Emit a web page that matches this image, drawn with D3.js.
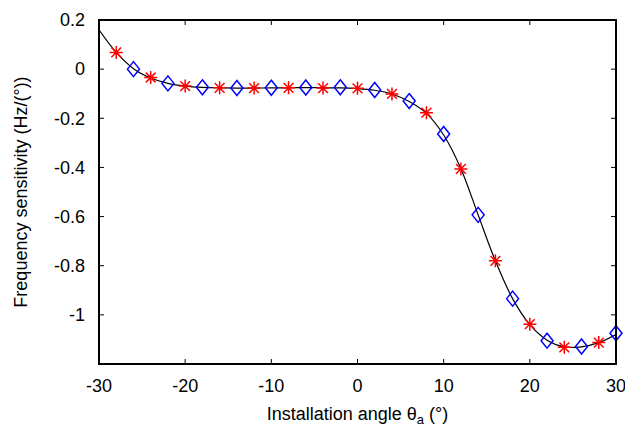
<!DOCTYPE html>
<html lang="en">
<head>
    <meta charset="UTF-8">
    <title>Frequency sensitivity</title>
    <script src="https://d3js.org/d3.v7.min.js"></script>
    <style>
        body { margin: 0; background: white; }
        text { font-family: "Liberation Sans", Arial, sans-serif; fill: black; }
        .tick-label { font-size: 18px; }
        .axis-title { font-size: 18px; }
    </style>
</head>
<body>
    <div id="chart"></div>
    <script>
        // star markers (red)
        const starAngles = [-28, -24, -20, -16, -12, -8, -4, 0, 4, 8, 12, 16, 20, 24, 28];
        const starValues = [0.068, -0.034, -0.069, -0.076, -0.077, -0.076, -0.077, -0.078, -0.101, -0.177, -0.406, -0.78, -1.038, -1.132, -1.113];

        // diamond markers (blue)
        const diamondAngles = [-26, -22, -18, -14, -10, -6, -2, 2, 6, 10, 14, 18, 22, 26, 30];
        const diamondValues = [0.0, -0.058, -0.074, -0.077, -0.076, -0.075, -0.074, -0.085, -0.13, -0.264, -0.593, -0.934, -1.105, -1.129, -1.075];

        // fitted curve
        const curveAngles = [-30, -28, -26, -24, -22, -20, -18, -16, -14, -12, -10, -8, -6, -4, -2, 0, 2, 4, 6, 8, 10, 12, 14, 16, 18, 20, 22, 24, 26, 28, 30];
        const curveValues = [0.16, 0.068, 0.002, -0.036, -0.058, -0.069, -0.074, -0.076, -0.077, -0.077, -0.076, -0.076, -0.075, -0.076, -0.076, -0.079, -0.086, -0.101, -0.132, -0.18, -0.268, -0.405, -0.593, -0.78, -0.934, -1.04, -1.103, -1.13, -1.13, -1.113, -1.08];

        const xTicks = [-30, -20, -10, 0, 10, 20, 30];
        const yTicks = [0.2, 0, -0.2, -0.4, -0.6, -0.8, -1];

        const margin = { top: 20, right: 9, bottom: 68, left: 99 };
        const W = 625, H = 432;
        const width = W - margin.left - margin.right;
        const height = H - margin.top - margin.bottom;

        const svg = d3.select("#chart")
            .append("svg")
            .attr("width", W)
            .attr("height", H);

        const g = svg.append("g")
            .attr("transform", `translate(${margin.left},${margin.top})`);

        const x = d3.scaleLinear().domain([-30, 30]).range([0, width]);
        const y = d3.scaleLinear().domain([-1.2, 0.2]).range([height, 0]);

        svg.append("defs").append("clipPath")
            .attr("id", "clip")
            .append("rect")
            .attr("width", width)
            .attr("height", height);

        // curve
        const line = d3.line()
            .x((d, i) => x(curveAngles[i]))
            .y(d => y(d))
            .curve(d3.curveCatmullRom.alpha(0.5));

        g.append("path")
            .datum(curveValues)
            .attr("clip-path", "url(#clip)")
            .attr("fill", "none")
            .attr("stroke", "black")
            .attr("stroke-width", 1.2)
            .attr("d", line);

        // diamonds
        g.append("g")
            .selectAll("path")
            .data(diamondValues)
            .join("path")
            .attr("transform", (d, i) => `translate(${x(diamondAngles[i])},${y(d)})`)
            .attr("d", "M0,-7.5L6,0L0,7.5L-6,0Z")
            .attr("fill", "none")
            .attr("stroke", "#0000ff")
            .attr("stroke-width", 1.5);

        // stars
        const r = 6.5, rd = r * 0.75;
        g.append("g")
            .selectAll("path")
            .data(starValues)
            .join("path")
            .attr("transform", (d, i) => `translate(${x(starAngles[i])},${y(d)})`)
            .attr("d", `M${-r},0L${r},0M0,${-r}L0,${r}M${-rd},${-rd}L${rd},${rd}M${-rd},${rd}L${rd},${-rd}`)
            .attr("fill", "none")
            .attr("stroke", "#ff0000")
            .attr("stroke-width", 1.5);

        // ticks (inward, mirrored)
        const tickLen = 5;
        const tg = g.append("g").attr("stroke", "black").attr("stroke-width", 1);
        xTicks.forEach(t => {
            tg.append("line").attr("x1", x(t)).attr("x2", x(t)).attr("y1", height).attr("y2", height - tickLen);
            tg.append("line").attr("x1", x(t)).attr("x2", x(t)).attr("y1", 0).attr("y2", tickLen);
        });
        yTicks.forEach(t => {
            tg.append("line").attr("x1", 0).attr("x2", tickLen).attr("y1", y(t)).attr("y2", y(t));
            tg.append("line").attr("x1", width).attr("x2", width - tickLen).attr("y1", y(t)).attr("y2", y(t));
        });

        // frame
        g.append("rect")
            .attr("width", width)
            .attr("height", height)
            .attr("fill", "none")
            .attr("stroke", "black")
            .attr("stroke-width", 2);

        // tick labels
        g.append("g")
            .selectAll("text")
            .data(xTicks)
            .join("text")
            .attr("class", "tick-label")
            .attr("x", d => x(d))
            .attr("y", height + 28)
            .attr("text-anchor", "middle")
            .text(d => String(d));

        g.append("g")
            .selectAll("text")
            .data(yTicks)
            .join("text")
            .attr("class", "tick-label")
            .attr("x", -14)
            .attr("y", d => y(d))
            .attr("dy", "0.35em")
            .attr("text-anchor", "end")
            .text(d => String(d));

        // axis titles
        const xt = svg.append("text")
            .attr("class", "axis-title")
            .attr("x", margin.left + width / 2)
            .attr("y", 420)
            .attr("text-anchor", "middle");
        xt.append("tspan").text("Installation angle θ");
        xt.append("tspan").attr("font-size", "13px").attr("dy", 4).text("a");
        xt.append("tspan").attr("dy", -4).text(" (°)");

        svg.append("text")
            .attr("class", "axis-title")
            .attr("transform", `translate(27,${margin.top + height / 2}) rotate(-90)`)
            .attr("text-anchor", "middle")
            .text("Frequency sensitivity (Hz/(°))");
    </script>
</body>
</html>
